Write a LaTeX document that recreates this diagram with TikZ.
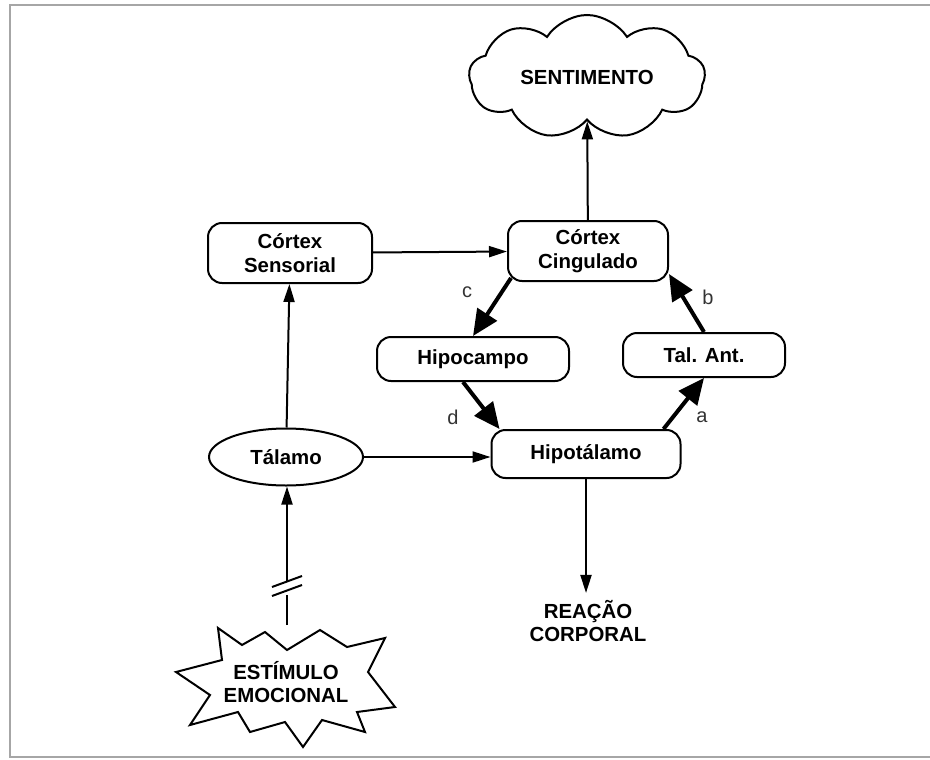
\documentclass[tikz,border=0pt]{standalone}
\usepackage{fontspec}
\setmainfont{Liberation Sans}
\usetikzlibrary{arrows.meta,calc,positioning,shapes.geometric,shapes.symbols}

\newcommand{\boxfont}{\fontsize{10.2}{11.8}\selectfont\bfseries}

\tikzset{
  box/.style={draw, line width=1pt, rounded corners=7pt, inner sep=0pt, align=center, font=\boxfont},
  thinarrow/.style={line width=1pt, -{Triangle[length=9pt,width=5.5pt]}},
  thickarrow/.style={line width=2pt, -{Triangle[length=13pt,width=11.5pt]}},
  letter/.style={font=\fontsize{10}{12}\selectfont, text=black!80}
}

\begin{document}
\begin{tikzpicture}[x=0.5pt,y=-0.5pt]
\useasboundingbox (0,0) rectangle (930,759);

% frame
\draw [gray!70, line width=1pt] (931,5) -- (10,5) -- (10,757) -- (931,757);

% nodes
\node [box, minimum width=80pt, minimum height=30pt] (cing) at (588,251) {C\'ortex\\Cingulado};
\node [box, minimum width=82pt, minimum height=30pt] (sens) at (290,253) {C\'ortex\\Sensorial};
\node [box, minimum width=96pt, minimum height=22pt] (hipo) at (473,359) {Hipocampo};
\node [box, minimum width=81pt, minimum height=22pt] (talant) at (704,355) {Tal. Ant.};
\node [box, minimum width=94.5pt, minimum height=24pt] (hipot) at (586,454) {Hipot\'alamo};
\node [draw, ellipse, line width=1pt, inner sep=0pt, minimum width=77pt, minimum height=28.5pt, font=\boxfont] (tal) at (286,457) {T\'alamo};

\node [draw, cloud, cloud puffs=9, cloud puff arc=115, aspect=2, line width=1pt, inner sep=0pt,
       minimum width=118pt, minimum height=60pt, font=\boxfont] (cloud) at (587,77) {SENTIMENTO};

\node [align=center, font=\boxfont] (reac) at (588,621) {REA\c{C}\~AO\\CORPORAL};

% stimulus burst, drawn point by point
\coordinate (burst) at (285,687);
\node [align=center, font=\boxfont] (stim) at (286,682) {EST\'IMULO\\EMOCIONAL};
\begin{scope}[shift={(burst)}]
\draw [line width=1pt, line join=miter] plot coordinates {
  (-67,-59) (-43,-42) (-20,-55) (2,-37) (35,-57) (62,-40) (100,-49) (83,-15)
  (110,20) (72,25) (80,45) (37,33) (18,60) (0,35) (-35,45) (-47,25)
  (-95,38) (-75,8) (-109,-15) (-63,-27)} -- cycle;
\end{scope}

% thin arrows
\draw [thinarrow] (cing) to (cloud);
\draw [thinarrow] (sens) to (cing);
\draw [thinarrow] (tal) to (sens);
\draw [thinarrow] (tal.east) to (tal.east -| hipot.west);
\draw [thinarrow] (hipot.south) to (hipot.south |- reac.north);

% broken arrow from the stimulus
\coordinate (stimtop) at (287,625);
\coordinate (brkB) at (287,595);
\coordinate (brkA) at (287,581);
\draw [line width=1pt] (stimtop) to (brkB);
\draw [thinarrow] (brkA) to (tal.south -| brkA);
\draw [line width=1pt] ($(brkA)+(-15,6)$) to ($(brkA)+(15,-5)$);
\draw [line width=1pt] ($(brkB)+(-15,1)$) to ($(brkB)+(15,-10)$);

% circuit
\draw [thickarrow] ($(cing.south west)+(4,-4)$) to (hipo.north);
\draw [thickarrow] ($(hipo.south)+(-10,0)$) to ($(hipot.north west)+(9,0)$);
\draw [thickarrow] ($(hipot.north east)+(-18,0)$) to (talant.south);
\draw [thickarrow] (talant.north) to ($(cing.south east)+(0,-8)$);

%labels
\node [letter] (lc) at (467,292) {c};
\node [letter] (ld) at (453,417) {d};
\node [letter] (la) at (702,417) {a};
\node [letter] (lb) at (708,297) {b};

\end{tikzpicture}
\end{document}
